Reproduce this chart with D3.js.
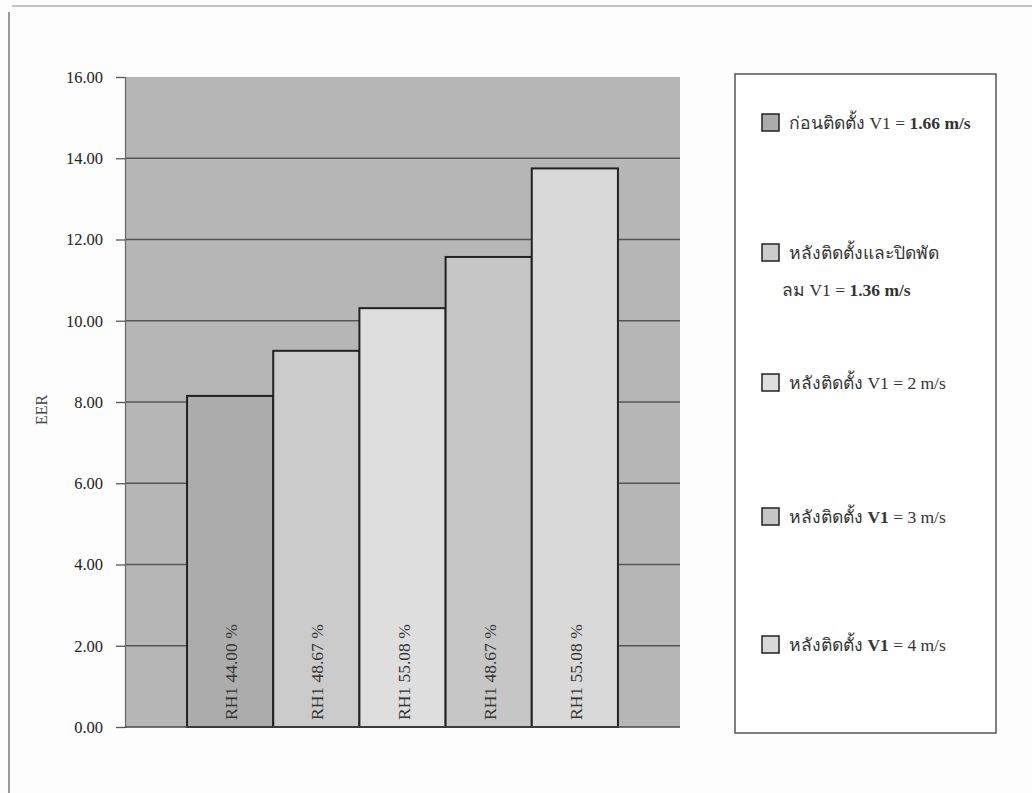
<!DOCTYPE html>
<html>
<head>
<meta charset="utf-8">
<script src="https://cdn.jsdelivr.net/npm/d3@7"></script>
<style>
  html, body { margin: 0; padding: 0; background: #fdfdfd; }
  svg { display: block; }
  text { font-family: "Liberation Serif", "Times New Roman", serif; }
</style>
</head>
<body>
<svg id="chart" width="1032" height="793"></svg>
<script>
// EER per test condition
const seriesNames = [
  "ก่อนติดตั้ง V1 = 1.66 m/s",
  "หลังติดตั้งและปิดพัดลม V1 = 1.36 m/s",
  "หลังติดตั้ง V1 = 2 m/s",
  "หลังติดตั้ง V1 = 3 m/s",
  "หลังติดตั้ง V1 = 4 m/s"
];
const eerValues = [8.15, 9.26, 10.31, 11.57, 13.75];
const barLabels = ["RH1 44.00 %", "RH1 48.67 %", "RH1 55.08 %", "RH1 48.67 %", "RH1 55.08 %"];
const barColors = ["#acacac", "#cbcbcb", "#dedede", "#c6c6c6", "#d9d9d9"];
const yTicks = [0, 2, 4, 6, 8, 10, 12, 14, 16];

// legend text runs: [text, bold]
const legendLines = [
  [[["ก่อนติดตั้ง V1 = ", false], ["1.66 m/s", true]]],
  [[["หลังติดตั้งและปิดพัด", false]], [["ลม V1 = ", false], ["1.36 m/s", true]]],
  [[["หลังติดตั้ง V1 = 2 m/s", false]]],
  [[["หลังติดตั้ง ", false], ["V1", true], [" = 3 m/s", false]]],
  [[["หลังติดตั้ง ", false], ["V1", true], [" = 4 m/s", false]]]
];
const legendY = [123, 253, 383, 517, 645];

const svg = d3.select("#chart");

// page frame
svg.append("line").attr("x1", 9).attr("x2", 9).attr("y1", 12).attr("y2", 793)
  .attr("stroke", "#7a7a7a").attr("stroke-width", 1.5);
svg.append("line").attr("x1", 12).attr("x2", 1032).attr("y1", 6).attr("y2", 6)
  .attr("stroke", "#8a8a8a").attr("stroke-width", 1.2);

const plot = { left: 125, right: 680, top: 77, bottom: 727 };

const y = d3.scaleLinear().domain([0, 16]).range([plot.bottom, plot.top]);
const x = d3.scaleBand().domain(d3.range(seriesNames.length))
  .range([plot.left, plot.right]).paddingInner(0).paddingOuter(0.72);

// plot background
svg.append("rect")
  .attr("x", plot.left).attr("y", plot.top)
  .attr("width", plot.right - plot.left).attr("height", plot.bottom - plot.top)
  .attr("fill", "#b6b6b6");

// gridlines
svg.append("g").selectAll("line").data(yTicks.filter(d => d > 0 && d < 16)).join("line")
  .attr("x1", plot.left).attr("x2", plot.right)
  .attr("y1", d => y(d)).attr("y2", d => y(d))
  .attr("stroke", "#555").attr("stroke-width", 1.3);

// y axis
const yAxis = d3.axisLeft(y).tickValues(yTicks).tickFormat(d3.format(".2f"))
  .tickSize(9).tickPadding(13);
const ga = svg.append("g").attr("transform", `translate(${plot.left},0)`).call(yAxis);
ga.select(".domain").attr("stroke", "#666").attr("stroke-width", 1.2);
ga.selectAll(".tick line").attr("stroke", "#555").attr("stroke-width", 1.3);
ga.selectAll(".tick text")
  .style("font-family", "'Liberation Serif', serif")
  .attr("font-size", 16.5).attr("fill", "#222");

// y axis title
svg.append("text")
  .attr("transform", "translate(47,410) rotate(-90)")
  .attr("text-anchor", "middle")
  .attr("font-size", 16).attr("fill", "#444")
  .text("EER");

// bars
svg.append("g").selectAll("rect").data(eerValues).join("rect")
  .attr("x", (d, i) => x(i)).attr("width", x.bandwidth())
  .attr("y", d => y(d)).attr("height", d => y(0) - y(d))
  .attr("fill", (d, i) => barColors[i])
  .attr("stroke", "#222").attr("stroke-width", 2);

// bar labels, rotated, starting near the base
svg.append("g").selectAll("text").data(barLabels).join("text")
  .attr("transform", (d, i) => `translate(${x(i) + x.bandwidth() / 2 + 7},${y(0) - 7}) rotate(-90)`)
  .attr("text-anchor", "start")
  .attr("font-size", 17.5).attr("fill", "#333")
  .text(d => d);

// baseline
svg.append("line").attr("x1", plot.left).attr("x2", plot.right)
  .attr("y1", y(0)).attr("y2", y(0)).attr("stroke", "#444").attr("stroke-width", 1.5);

// legend box
svg.append("rect").attr("x", 735).attr("y", 74).attr("width", 261).attr("height", 659)
  .attr("fill", "#fff").attr("stroke", "#555").attr("stroke-width", 1.5);

const lg = svg.append("g").selectAll("g").data(seriesNames).join("g")
  .attr("transform", (d, i) => `translate(762,${legendY[i]})`);
lg.append("rect").attr("x", 0).attr("y", -9).attr("width", 17).attr("height", 17)
  .attr("fill", (d, i) => barColors[i]).attr("stroke", "#222").attr("stroke-width", 1.5);
lg.each(function(d, i) {
  const g = d3.select(this);
  legendLines[i].forEach((runs, li) => {
    const t = g.append("text")
      .attr("x", li === 0 ? 27 : 20).attr("y", 6 + li * 37)
      .attr("font-size", 17.5).attr("fill", "#333");
    runs.forEach(([s, b]) => {
      t.append("tspan").attr("font-weight", b ? "bold" : "normal").text(s);
    });
  });
});
</script>
</body>
</html>
